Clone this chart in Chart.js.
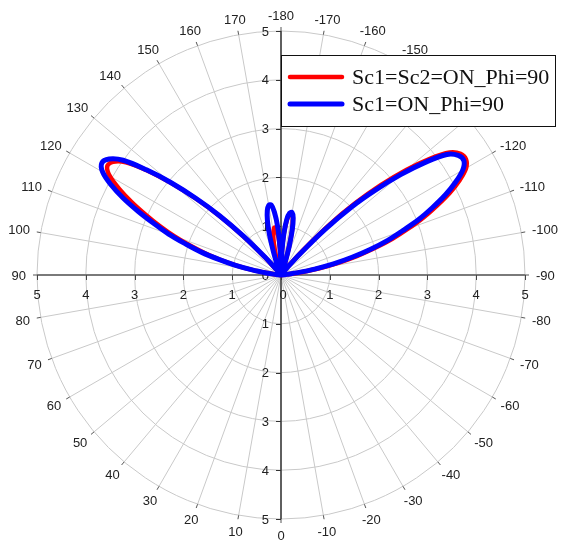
<!DOCTYPE html>
<html>
<head>
<meta charset="utf-8">
<script src="https://cdn.jsdelivr.net/npm/chart.js@4/dist/chart.umd.min.js"></script>
<style>
  html, body { margin: 0; padding: 0; background: #ffffff; }
  #wrap { width: 561px; height: 554px; }
</style>
</head>
<body>
<div id="wrap"><canvas id="c" width="561" height="554"></canvas></div>
<script>
// Polar pattern, theta in degrees (0 at bottom, 90 at left, -90 at right, ±180 at top)
const thetaDeg = [
  -180, -178, -176, -174, -172, -170, -168, -166, -164, -162,
  -160, -158, -156, -154, -152, -150, -148, -146, -144, -142,
  -140, -138, -136, -134, -132, -130, -128, -126, -124, -122,
  -120, -118, -116, -114, -112, -110, -108, -106, -104, -102,
  -100, -98, -96, -94, -92, -90,
  -80, -70, -60, -50, -40, -30, -20, -10, 0, 10, 20, 30, 40, 50, 60, 70, 80,
  90, 92, 94, 96, 98, 100, 102, 104, 106, 108,
  110, 112, 114, 116, 118, 120, 122, 124, 126, 128,
  130, 132, 134, 136, 138, 140, 142, 144, 146, 148,
  150, 152, 154, 156, 158, 160, 162, 164, 166, 168,
  170, 172, 174, 176, 178, 180
];

// Sc1=Sc2=ON_Phi=90
const radiusBoth = [
  0.15, 0.45, 0.85, 1.12, 1.26, 1.28, 1.18, 0.92, 0.58, 0.28,
  0.10, 0.05, 0.05, 0.05, 0.05, 0.05, 0.05, 0.05, 0.05, 0.10,
  0.28, 0.75, 1.45, 2.12, 2.75, 3.35, 3.87, 4.27, 4.44, 4.47,
  4.38, 4.15, 3.85, 3.50, 3.15, 2.77, 2.40, 2.00, 1.60, 1.20,
  0.80, 0.45, 0.18, 0.07, 0.03, 0.02,
  0, 0, 0, 0, 0, 0, 0, 0, 0, 0, 0, 0, 0, 0, 0, 0, 0,
  0.02, 0.03, 0.06, 0.14, 0.32, 0.60, 0.93, 1.27, 1.62, 1.97,
  2.33, 2.68, 3.03, 3.40, 3.75, 4.05, 4.20, 4.15, 3.93, 3.48,
  2.92, 2.32, 1.72, 1.06, 0.46, 0.15, 0.12, 0.15, 0.15, 0.12,
  0.10, 0.08, 0.06, 0.05, 0.05, 0.08, 0.15, 0.30, 0.52, 0.75,
  0.90, 0.98, 0.97, 0.80, 0.50, 0.15
];

// Sc1=ON_Phi=90
const radiusSc1 = [
  0.15, 0.45, 0.85, 1.15, 1.28, 1.30, 1.20, 0.95, 0.60, 0.30,
  0.10, 0.05, 0.05, 0.05, 0.05, 0.05, 0.05, 0.05, 0.05, 0.08,
  0.20, 0.60, 1.30, 2.00, 2.60, 3.20, 3.75, 4.20, 4.38, 4.42,
  4.30, 4.05, 3.75, 3.40, 3.05, 2.65, 2.30, 1.90, 1.50, 1.10,
  0.70, 0.35, 0.12, 0.05, 0.03, 0.02,
  0, 0, 0, 0, 0, 0, 0, 0, 0, 0, 0, 0, 0, 0, 0, 0, 0,
  0.02, 0.03, 0.05, 0.12, 0.30, 0.60, 0.95, 1.30, 1.70, 2.05,
  2.45, 2.80, 3.20, 3.60, 3.95, 4.22, 4.33, 4.25, 4.00, 3.50,
  2.95, 2.35, 1.75, 1.10, 0.50, 0.15, 0.08, 0.05, 0.05, 0.05,
  0.05, 0.05, 0.05, 0.05, 0.10, 0.25, 0.50, 0.85, 1.15, 1.35,
  1.45, 1.45, 1.30, 1.00, 0.55, 0.15
];

const seriesNames = ['Sc1=Sc2=ON_Phi=90', 'Sc1=ON_Phi=90'];
const radialTicks = [1, 2, 3, 4, 5];
const angleTicks = [-180, -170, -160, -150, -140, -130, -120, -110, -100, -90,
  -80, -70, -60, -50, -40, -30, -20, -10, 0, 10, 20, 30, 40, 50, 60, 70, 80,
  90, 100, 110, 120, 130, 140, 150, 160, 170];
const axisTicks = [-5, -4, -3, -2, -1, 0, 1, 2, 3, 4, 5];

// polar -> cartesian: theta 0 points down, 90 points left
function toXY(thetas, radii) {
  return thetas.map((t, i) => {
    const a = t * Math.PI / 180;
    return { x: -radii[i] * Math.sin(a), y: -radii[i] * Math.cos(a) };
  });
}

const polarFrame = {
  id: 'polarFrame',
  beforeDatasetsDraw(chart) {
    const ctx = chart.ctx;
    const xs = chart.scales.x, ys = chart.scales.y;
    const cx = xs.getPixelForValue(0), cy = ys.getPixelForValue(0);
    const unit = xs.getPixelForValue(1) - cx;
    const rMax = unit * 5;
    ctx.save();

    // grid circles
    ctx.strokeStyle = '#c9c9c9';
    ctx.lineWidth = 1;
    radialTicks.forEach(r => {
      ctx.beginPath();
      ctx.arc(cx, cy, r * unit, 0, Math.PI * 2);
      ctx.stroke();
    });
    // spokes
    angleTicks.forEach(t => {
      const a = t * Math.PI / 180;
      ctx.beginPath();
      ctx.moveTo(cx, cy);
      ctx.lineTo(cx - Math.sin(a) * rMax, cy + Math.cos(a) * rMax);
      ctx.stroke();
    });

    // outer angle ticks
    ctx.strokeStyle = '#555';
    angleTicks.forEach(t => {
      const a = t * Math.PI / 180;
      const dx = -Math.sin(a), dy = Math.cos(a);
      ctx.beginPath();
      ctx.moveTo(cx + dx * rMax, cy + dy * rMax);
      ctx.lineTo(cx + dx * (rMax + 4), cy + dy * (rMax + 4));
      ctx.stroke();
    });

    // horizontal axis
    ctx.strokeStyle = '#7a7a7a';
    ctx.lineWidth = 2;
    ctx.beginPath();
    ctx.moveTo(xs.getPixelForValue(-5), cy);
    ctx.lineTo(xs.getPixelForValue(5), cy);
    ctx.stroke();
    ctx.lineWidth = 1;
    ctx.strokeStyle = '#444';
    axisTicks.forEach(v => {
      const px = Math.round(xs.getPixelForValue(v)) + 0.5;
      ctx.beginPath();
      ctx.moveTo(px, cy);
      ctx.lineTo(px, cy + 5);
      ctx.stroke();
    });

    // vertical axis
    ctx.strokeStyle = '#333';
    ctx.lineWidth = 1.5;
    ctx.beginPath();
    ctx.moveTo(cx, ys.getPixelForValue(5));
    ctx.lineTo(cx, ys.getPixelForValue(-5));
    ctx.stroke();
    ctx.lineWidth = 1;
    axisTicks.forEach(v => {
      const py = Math.round(ys.getPixelForValue(v)) + 0.5;
      ctx.beginPath();
      ctx.moveTo(cx - 5, py);
      ctx.lineTo(cx, py);
      ctx.stroke();
    });

    // axis labels
    ctx.fillStyle = '#222';
    ctx.font = '13px "Liberation Sans", Arial, sans-serif';
    ctx.textAlign = 'center';
    ctx.textBaseline = 'middle';
    axisTicks.forEach(v => {
      const px = xs.getPixelForValue(v) + (v === 0 ? 2 : 0);
      ctx.fillText(String(Math.abs(v)), px, cy + 20);
    });
    ctx.textAlign = 'right';
    axisTicks.forEach(v => {
      ctx.fillText(String(Math.abs(v)), cx - 12, ys.getPixelForValue(v) + 1);
    });

    // angle labels
    ctx.textAlign = 'center';
    angleTicks.forEach(t => {
      const a = t * Math.PI / 180;
      const dx = -Math.sin(a), dy = Math.cos(a);
      const txt = String(t);
      const w = ctx.measureText(txt).width;
      const r0 = rMax + 11;
      const x = cx + dx * r0 + dx * w / 2;
      const y = cy + dy * r0 + dy * 5 + 1;
      ctx.fillText(txt, x, y);
    });
    ctx.restore();
  },
  afterDatasetsDraw(chart) {
    const ctx = chart.ctx;
    const xs = chart.scales.x;
    const left = Math.round(xs.getPixelForValue(0)) + 0.5;
    const top = 55.5, right = 555.5, bottom = 126.5;
    ctx.save();
    ctx.fillStyle = '#ffffff';
    ctx.fillRect(left, top, right - left, bottom - top);
    ctx.strokeStyle = '#111';
    ctx.lineWidth = 1;
    ctx.strokeRect(left, top, right - left, bottom - top);
    ctx.font = '22px "Liberation Serif", "Times New Roman", serif';
    ctx.textAlign = 'left';
    ctx.textBaseline = 'middle';
    chart.data.datasets.forEach((ds, i) => {
      const y = 77 + i * 27;
      ctx.strokeStyle = ds.borderColor;
      ctx.lineWidth = ds.borderWidth;
      ctx.lineCap = 'round';
      ctx.beginPath();
      ctx.moveTo(290, y);
      ctx.lineTo(342, y);
      ctx.stroke();
      ctx.fillStyle = '#111';
      ctx.fillText(ds.label, 352, y + 1);
    });
    ctx.restore();
  }
};

new Chart(document.getElementById('c'), {
  type: 'scatter',
  data: {
    datasets: [
      {
        label: seriesNames[0],
        data: toXY(thetaDeg, radiusBoth),
        showLine: true,
        borderColor: '#ff0000',
        borderWidth: 4.5,
        pointRadius: 0,
        tension: 0.35,
        order: 2
      },
      {
        label: seriesNames[1],
        data: toXY(thetaDeg, radiusSc1),
        showLine: true,
        borderColor: '#0000ff',
        borderWidth: 5,
        pointRadius: 0,
        tension: 0.35,
        order: 1
      }
    ]
  },
  options: {
    responsive: false,
    animation: false,
    devicePixelRatio: 1,
    layout: { padding: { left: 37, right: 36, top: 31, bottom: 35 } },
    scales: {
      x: { type: 'linear', min: -5, max: 5, display: false },
      y: { type: 'linear', min: -5, max: 5, display: false }
    },
    plugins: {
      legend: { display: false },
      tooltip: { enabled: false }
    }
  },
  plugins: [polarFrame]
});
</script>
</body>
</html>
